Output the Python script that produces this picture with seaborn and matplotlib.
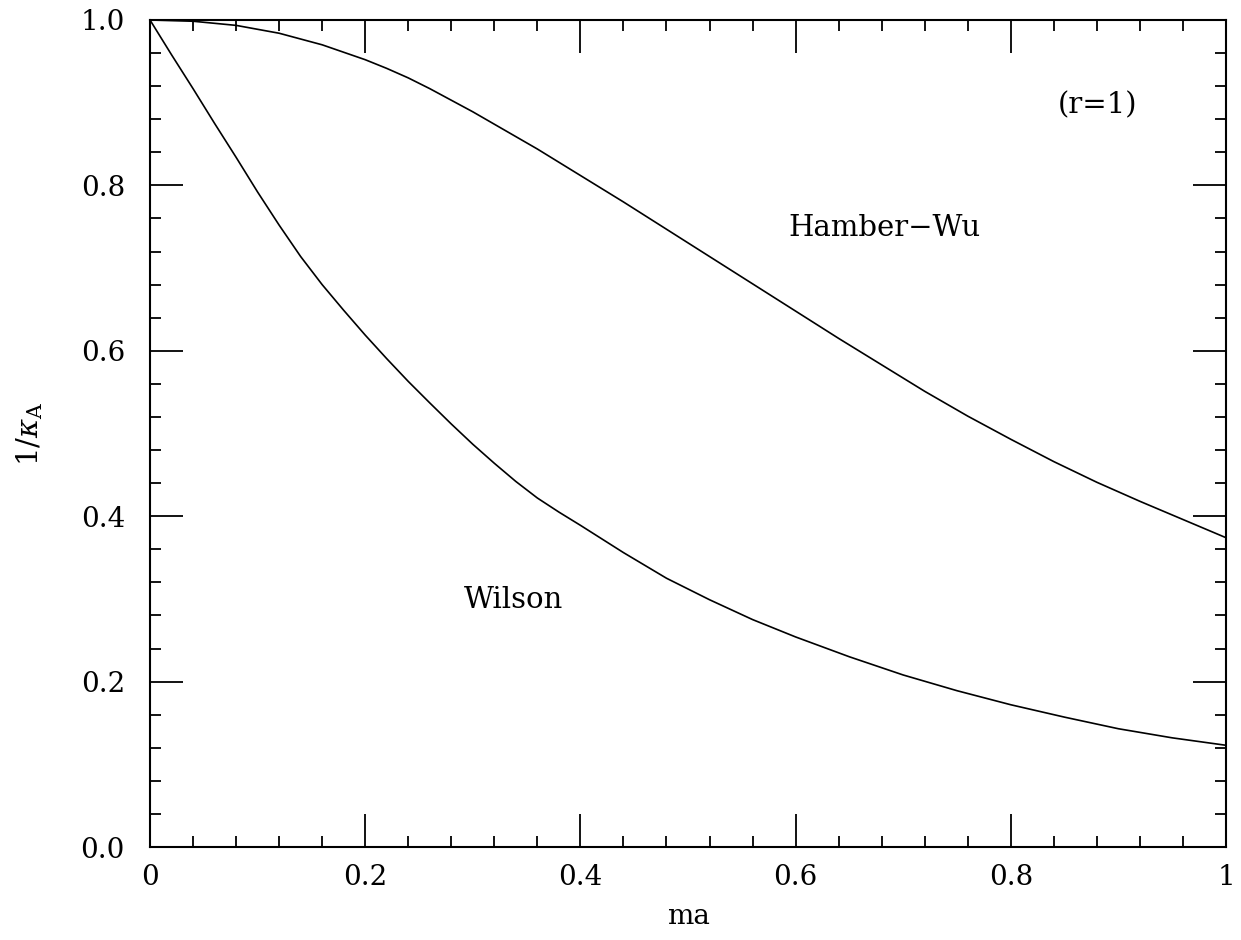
import numpy as np
import pandas as pd
import matplotlib
matplotlib.use("Agg")
import matplotlib.pyplot as plt
import seaborn as sns
from matplotlib.ticker import MultipleLocator, FixedLocator, FixedFormatter

# Data
wilson_x = [0.0, 0.02, 0.04, 0.06, 0.08, 0.10, 0.12, 0.14, 0.16, 0.18, 0.20, 0.22, 0.24, 0.26,
            0.28, 0.30, 0.32, 0.34, 0.36, 0.38, 0.40, 0.44, 0.48, 0.52, 0.56, 0.60, 0.65, 0.70,
            0.75, 0.80, 0.85, 0.90, 0.95, 1.0]
wilson_y = [1.0, 0.958, 0.917, 0.875, 0.834, 0.792, 0.752, 0.714, 0.680, 0.649, 0.619, 0.5905,
            0.563, 0.537, 0.5115, 0.487, 0.464, 0.442, 0.422, 0.405, 0.389, 0.356, 0.325, 0.299,
            0.275, 0.254, 0.230, 0.208, 0.189, 0.172, 0.157, 0.143, 0.132, 0.123]

hw_x = [0.0, 0.04, 0.08, 0.12, 0.16, 0.20, 0.22, 0.24, 0.26, 0.28, 0.30, 0.32, 0.34, 0.36,
        0.38, 0.40, 0.44, 0.48, 0.52, 0.56, 0.60, 0.64, 0.68, 0.72, 0.76, 0.80, 0.84, 0.88,
        0.92, 0.96, 1.0]
hw_y = [1.0, 0.9985, 0.9935, 0.984, 0.970, 0.952, 0.9415, 0.930, 0.917, 0.903, 0.889, 0.874,
        0.859, 0.844, 0.828, 0.812, 0.780, 0.747, 0.714, 0.681, 0.648, 0.615, 0.583, 0.551,
        0.521, 0.493, 0.466, 0.441, 0.418, 0.396, 0.374]

x_ticks = [0, 0.2, 0.4, 0.6, 0.8, 1.0]
x_ticklabels = ["0", "0.2", "0.4", "0.6", "0.8", "1"]
y_ticks = [0.0, 0.2, 0.4, 0.6, 0.8, 1.0]
y_ticklabels = ["0.0", "0.2", "0.4", "0.6", "0.8", "1.0"]

df = pd.concat([
    pd.DataFrame({"ma": wilson_x, "val": wilson_y, "action": "Wilson"}),
    pd.DataFrame({"ma": hw_x, "val": hw_y, "action": "Hamber-Wu"}),
])

sns.set_theme(style="ticks")
plt.rcParams["font.family"] = ["DejaVu Serif"]
plt.rcParams["mathtext.fontset"] = "dejavuserif"
plt.rcParams["text.color"] = "black"
plt.rcParams["axes.labelcolor"] = "black"

fig = plt.figure(figsize=(12.41, 9.40), dpi=100)
ax = fig.add_axes([150/1241, 1 - 847/940, 1076/1241, 827/940])

sns.lineplot(data=df, x="ma", y="val", units="action", estimator=None, sort=False,
             color="black", linewidth=1.2, ax=ax, legend=False)

ax.set_xlim(0, 1)
ax.set_ylim(0, 1)
ax.xaxis.set_major_locator(FixedLocator(x_ticks))
ax.xaxis.set_major_formatter(FixedFormatter(x_ticklabels))
ax.yaxis.set_major_locator(FixedLocator(y_ticks))
ax.yaxis.set_major_formatter(FixedFormatter(y_ticklabels))
ax.xaxis.set_minor_locator(MultipleLocator(0.04))
ax.yaxis.set_minor_locator(MultipleLocator(0.04))

for s in ax.spines.values():
    s.set_visible(True)
    s.set_linewidth(1.5)
    s.set_color("black")

ax.tick_params(which="both", direction="in", top=True, right=True, colors="black",
               width=1.3, labelsize=20, labelcolor="black")
ax.tick_params(which="major", length=24)
ax.tick_params(which="minor", length=8)
ax.tick_params(axis="x", which="major", pad=12)
ax.tick_params(axis="y", which="major", pad=18)

ax.set_xlabel("ma", fontsize=20, labelpad=9, color="black")
ax.set_ylabel(r"$1/\kappa_{\rm A}$", fontsize=21, labelpad=26, color="black")

ax.text(0.683, 0.7485, "Hamber\u2212Wu", fontsize=21, ha="center", va="center", color="black")
ax.text(0.338, 0.2987, "Wilson", fontsize=21, ha="center", va="center", color="black")
ax.text(0.881, 0.897, "(r=1)", fontsize=21, ha="center", va="center", color="black")

fig.savefig("out.png", dpi=100)
